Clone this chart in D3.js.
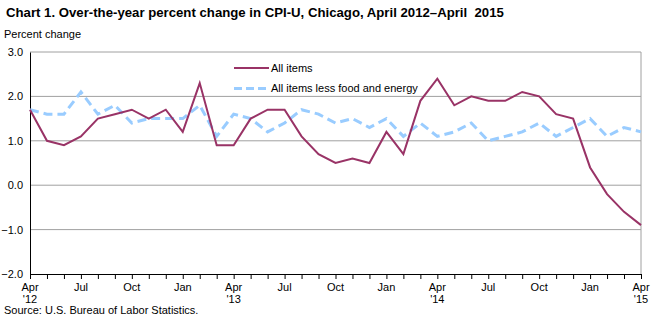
<!DOCTYPE html>
<html><head><meta charset="utf-8">
<script src="https://cdn.jsdelivr.net/npm/d3@7"></script>
<style>body{margin:0;background:#fff;}svg{display:block;font-family:"Liberation Sans",Arial,sans-serif;}</style>
</head><body><svg id="c" width="659" height="326"></svg>
<script>
const months = ["Apr","May","Jun","Jul","Aug","Sep","Oct","Nov","Dec","Jan","Feb","Mar",
  "Apr","May","Jun","Jul","Aug","Sep","Oct","Nov","Dec","Jan","Feb","Mar",
  "Apr","May","Jun","Jul","Aug","Sep","Oct","Nov","Dec","Jan","Feb","Mar","Apr"];
const allItems = [1.7,1.0,0.9,1.1,1.5,1.6,1.7,1.5,1.7,1.2,2.3,0.9,
  0.9,1.5,1.7,1.7,1.1,0.7,0.5,0.6,0.5,1.2,0.7,1.9,
  2.4,1.8,2.0,1.9,1.9,2.1,2.0,1.6,1.5,0.4,-0.2,-0.6,-0.9];
const core = [1.7,1.6,1.6,2.1,1.6,1.8,1.4,1.5,1.5,1.5,1.8,1.1,
  1.6,1.5,1.2,1.4,1.7,1.6,1.4,1.5,1.3,1.5,1.1,1.4,
  1.1,1.2,1.4,1.0,1.1,1.2,1.4,1.1,1.3,1.5,1.1,1.3,1.2];
const yTicks = [-2,-1,0,1,2,3];
const yearLabels = {0:"'12",12:"'13",24:"'14",36:"'15"};
const seriesNames = ["All items","All items less food and energy"];

const svg = d3.select("#c");
const L=30, R=641, T=52, B=274;
const x = d3.scaleLinear().domain([0,months.length-1]).range([L,R]);
const y = d3.scaleLinear().domain([-2,3]).range([B,T]);

svg.append("text").attr("x",6).attr("y",17).attr("font-size",13.2).attr("font-weight","bold")
  .style("white-space","pre")
  .text("Chart 1. Over-the-year percent change in CPI-U, Chicago, April 2012\u2013April\u00a0 2015");
svg.append("text").attr("x",4).attr("y",38).attr("font-size",11).text("Percent change");

// gridlines
svg.append("g").selectAll("line").data(yTicks.filter(d=>d>-2)).join("line")
  .attr("x1",L).attr("x2",R).attr("y1",d=>y(d)).attr("y2",d=>y(d))
  .attr("stroke","#a0a0a0").attr("stroke-width",1);
svg.append("line").attr("x1",R).attr("x2",R).attr("y1",T).attr("y2",B).attr("stroke","#a0a0a0");

// y axis
const ya = svg.append("g").attr("transform",`translate(${L},0)`)
  .call(d3.axisLeft(y).tickValues(yTicks).tickFormat(d3.format(".1f")).tickSize(0).tickPadding(7));
ya.select(".domain").attr("stroke","#000");
ya.selectAll("text").attr("font-size",11).attr("font-family","Liberation Sans, Arial").attr("fill","#000");

// x axis
const xa = svg.append("g").attr("transform",`translate(0,${B})`)
  .call(d3.axisBottom(x).tickValues(d3.range(months.length)).tickSize(5).tickFormat(""));
xa.select(".domain").attr("stroke","#000");
xa.selectAll("line").attr("stroke","#000");
const lab = svg.append("g").selectAll("g").data(d3.range(0,months.length,3)).join("g");
lab.append("text").attr("x",d=>x(d)).attr("y",291).attr("text-anchor","middle").attr("font-size",11).text(d=>months[d]);
lab.filter(d=>yearLabels[d]).append("text").attr("x",d=>x(d)).attr("y",303).attr("text-anchor","middle").attr("font-size",11).text(d=>yearLabels[d]);

// lines
const line = d3.line().x((d,i)=>x(i)).y(d=>y(d));
svg.append("path").datum(core).attr("d",line).attr("fill","none")
  .attr("stroke","#99ccff").attr("stroke-width",3).attr("stroke-dasharray","9,5");
svg.append("path").datum(allItems).attr("d",line).attr("fill","none")
  .attr("stroke","#993366").attr("stroke-width",2);

// legend
const lg = svg.append("g");
lg.append("line").attr("x1",234).attr("x2",269).attr("y1",68).attr("y2",68).attr("stroke","#993366").attr("stroke-width",2);
lg.append("line").attr("x1",234).attr("x2",269).attr("y1",88.5).attr("y2",88.5).attr("stroke","#99ccff").attr("stroke-width",3).attr("stroke-dasharray","8,4");
lg.append("text").attr("x",271).attr("y",72).attr("font-size",11).text(seriesNames[0]);
lg.append("text").attr("x",271).attr("y",92).attr("font-size",11).text(seriesNames[1]);

svg.append("text").attr("x",4).attr("y",314).attr("font-size",11).text("Source: U.S. Bureau of Labor Statistics.");
</script></body></html>
